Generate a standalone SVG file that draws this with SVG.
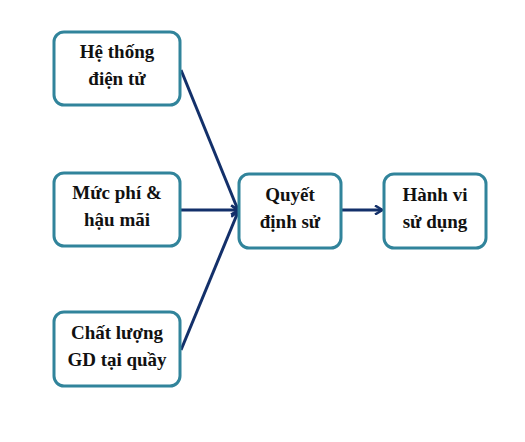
<svg xmlns="http://www.w3.org/2000/svg" width="525" height="442" viewBox="0 0 525 442">
<style>
.box{fill:#fff;stroke:#31849b;stroke-width:3}
.c{stroke:#13306a;stroke-width:3;fill:none}
</style>
<defs>
<marker id="ah" markerWidth="10" markerHeight="10" refX="8" refY="5" orient="auto" markerUnits="userSpaceOnUse" viewBox="0 0 10 10">
<path d="M1,0.5 L8.5,5 L1,9.5" fill="none" stroke="#13306a" stroke-width="2.5"/>
</marker>
</defs>
<rect width="525" height="442" fill="#fff"/>
<g id="connectors">
<line class="c" x1="181" y1="70" x2="238" y2="210" marker-end="url(#ah)"/>
<line class="c" x1="181" y1="210" x2="238" y2="210" marker-end="url(#ah)"/>
<line class="c" x1="181" y1="350" x2="238" y2="212" marker-end="url(#ah)"/>
<line class="c" x1="342" y1="210" x2="382" y2="210" marker-end="url(#ah)"/>
</g>
<g font-family="'Liberation Serif', 'Times New Roman', serif" font-weight="bold" font-size="19" fill="#111" text-anchor="middle">
<g id="n1"><rect class="box" x="54" y="32" width="126" height="73" rx="10"/>
<text x="117" y="58">Hệ thống</text><text x="117" y="85">điện tử</text></g>
<g id="n2"><rect class="box" x="54" y="173" width="126" height="73" rx="10"/>
<text x="117" y="199">Mức phí &amp;</text><text x="117" y="226">hậu mãi</text></g>
<g id="n3"><rect class="box" x="54" y="312" width="126" height="74" rx="10"/>
<text x="117" y="339">Chất lượng</text><text x="117" y="366">GD tại quầy</text></g>
<g id="n4"><rect class="box" x="239" y="174" width="102" height="74" rx="10"/>
<text x="290" y="201">Quyết</text><text x="290" y="228">định sử</text></g>
<g id="n5"><rect class="box" x="384" y="174" width="102" height="74" rx="10"/>
<text x="435" y="201">Hành vi</text><text x="435" y="228">sử dụng</text></g>
</g>
</svg>
